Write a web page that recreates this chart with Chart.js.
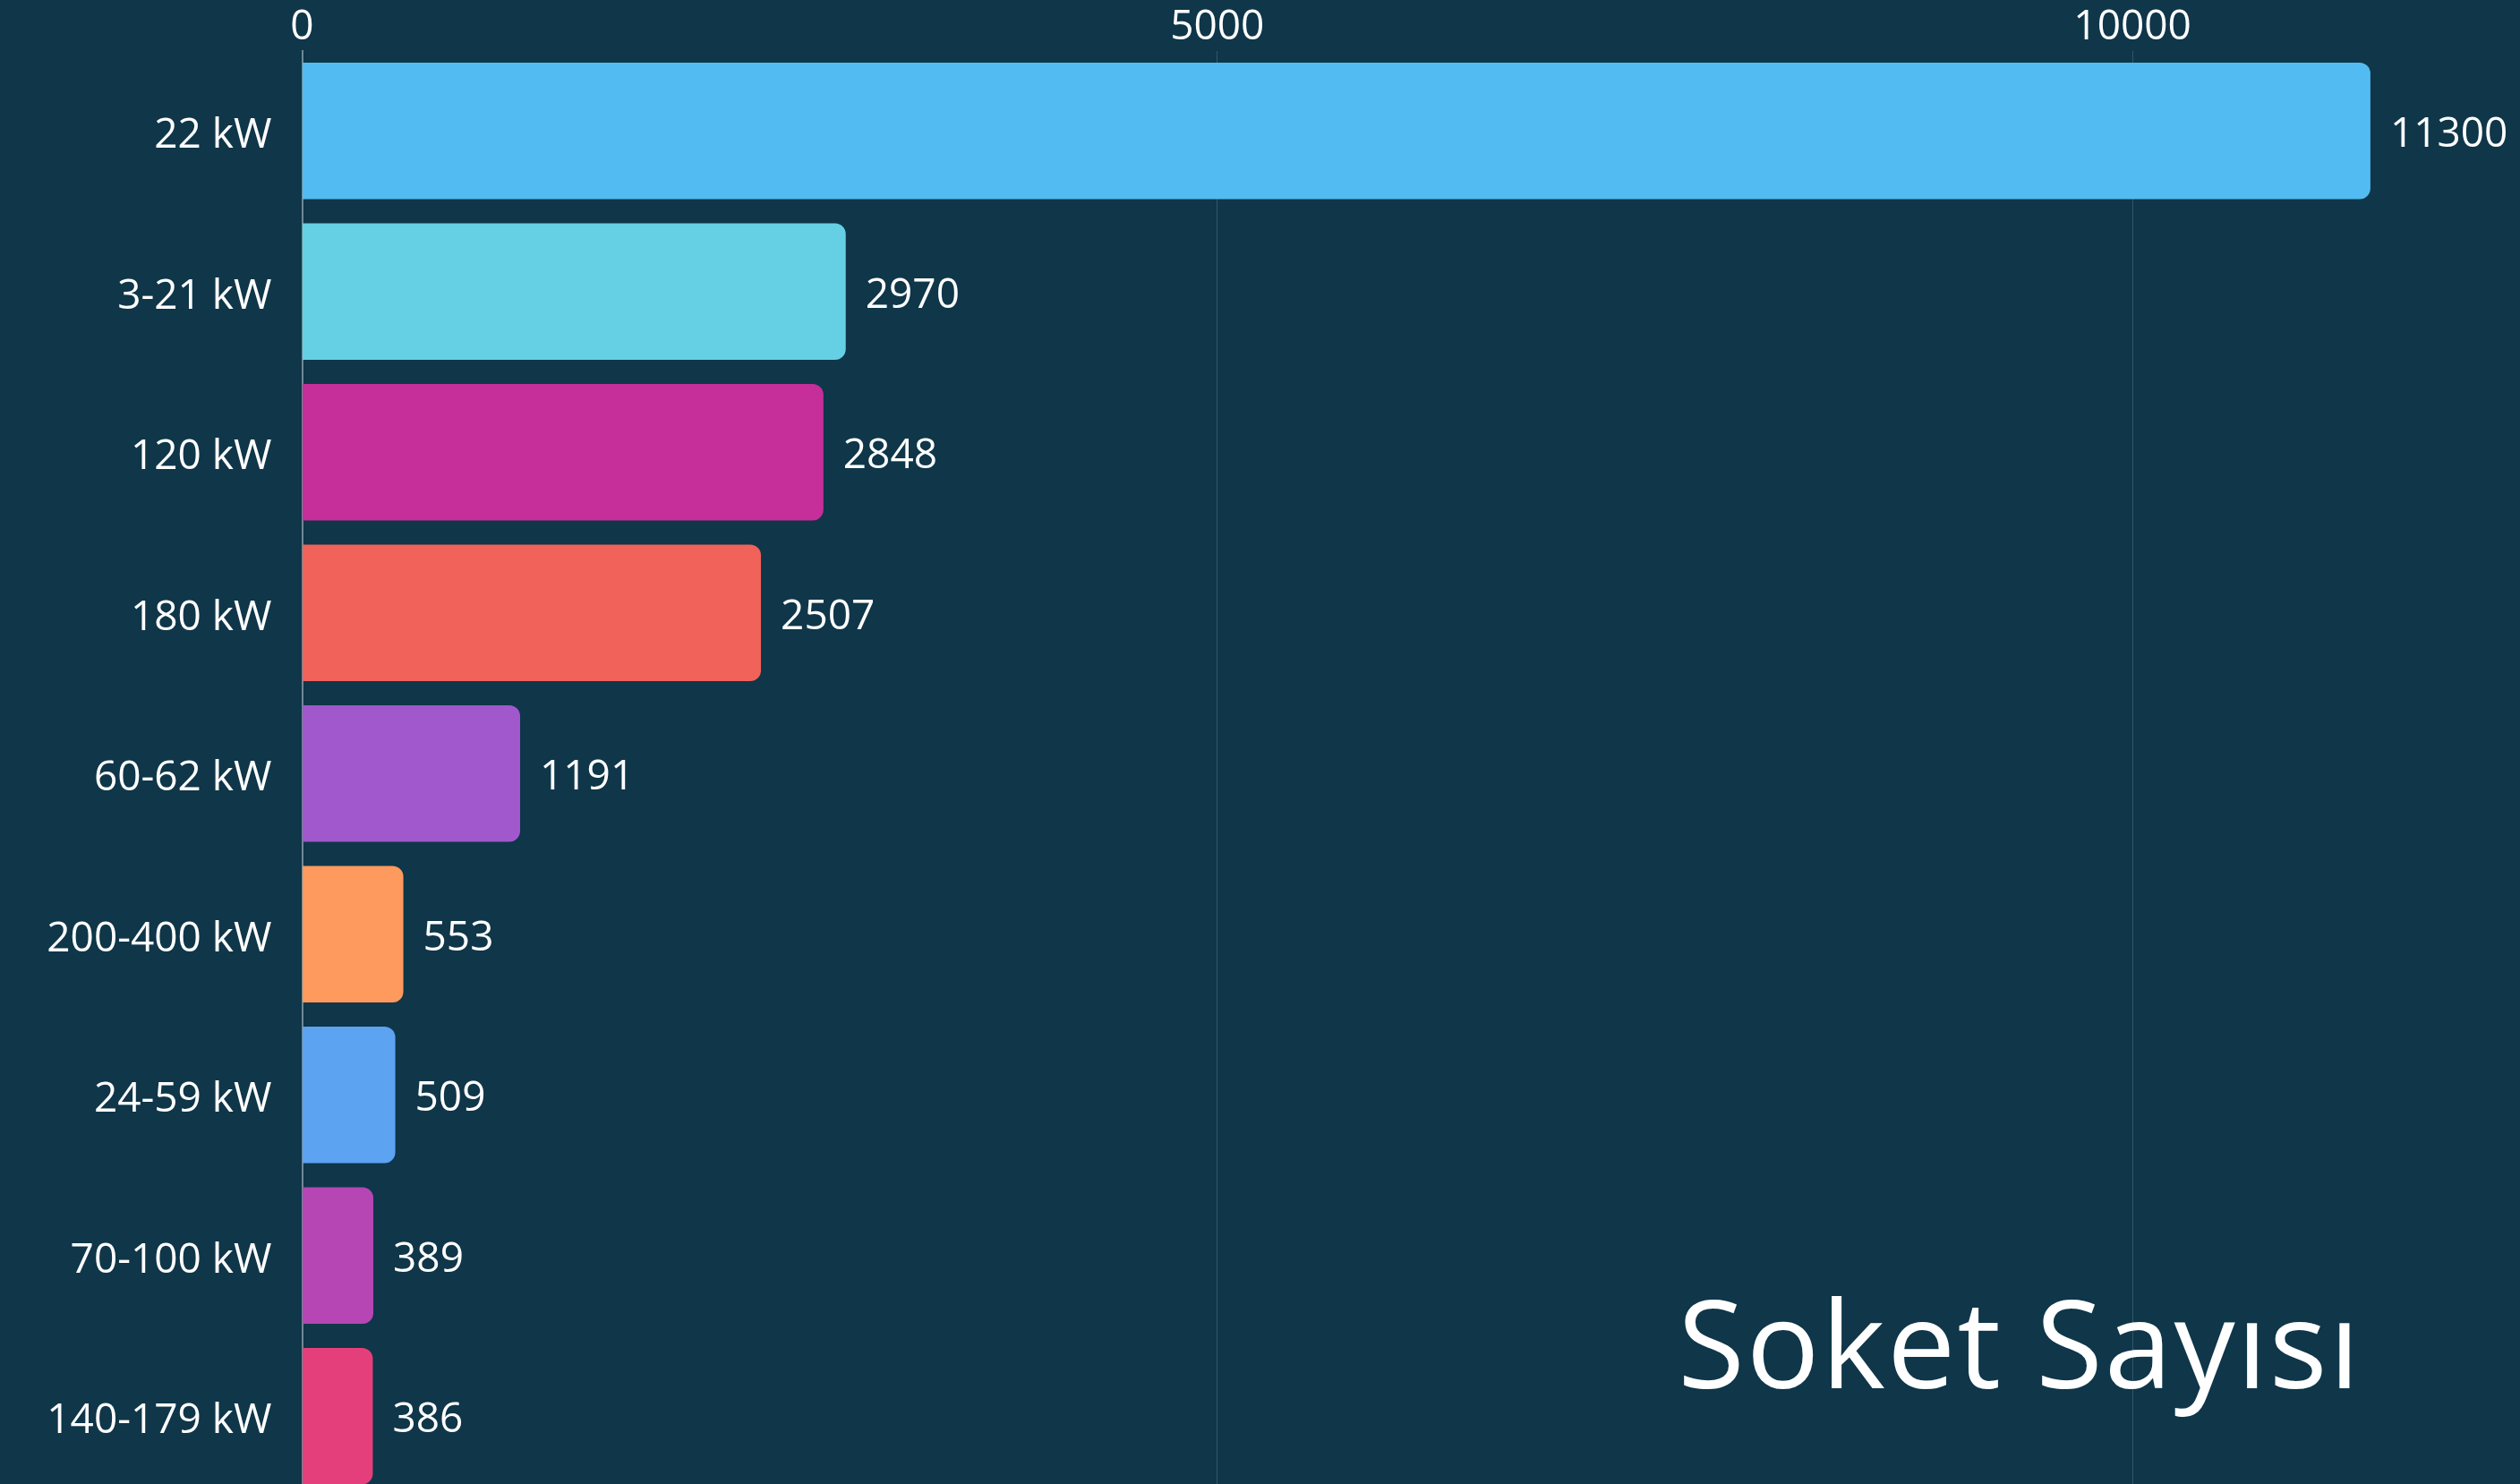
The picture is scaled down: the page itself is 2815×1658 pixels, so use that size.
<!DOCTYPE html>
<html>
<head>
<meta charset="utf-8">
<script src="https://cdn.jsdelivr.net/npm/chart.js@4.4.1/dist/chart.umd.min.js"></script>
<style>
  html, body { margin: 0; padding: 0; background: #0F3649; overflow: hidden; }
  #wrap { position: relative; width: 2815px; height: 1672px; }
  #baslik {
    position: absolute; right: 177px; top: 1406px;
    font-family: "Open Sans", sans-serif; font-size: 136px; color: #ffffff;
    letter-spacing: 2px; white-space: nowrap;
  }
</style>
</head>
<body>
<div id="wrap">
  <canvas id="chart"></canvas>
  <div id="baslik">Soket Sayısı</div>
</div>
<script>
const kategoriler = ["22 kW", "3-21 kW", "120 kW", "180 kW", "60-62 kW", "200-400 kW", "24-59 kW", "70-100 kW", "140-179 kW"];
const soketSayisi = [11300, 2970, 2848, 2507, 1191, 553, 509, 389, 386];
const renkler = ["#52BBF2", "#65D0E4", "#C62E9A", "#F0625A", "#A058CC", "#FE9A5E", "#5CA3F2", "#B546B4", "#E53F7B"];
const eksenDegerleri = [0, 5000, 10000];

const fontAdi = "'Open Sans', sans-serif";

// bar sonuna deger yazan eklenti
const degerYaz = {
  id: "degerYaz",
  afterDatasetsDraw(chart) {
    const ctx = chart.ctx;
    const meta = chart.getDatasetMeta(0);
    ctx.save();
    ctx.fillStyle = "#ffffff";
    ctx.font = "46px " + fontAdi;
    ctx.textAlign = "left";
    ctx.textBaseline = "middle";
    meta.data.forEach(function(bar, i){
      ctx.fillText(String(soketSayisi[i]), bar.x + 22, bar.y + 5);
    });
    ctx.restore();
  }
};

let canv = document.getElementById("chart");
let latestChart = new Chart(canv, {
  type: "bar",
  data: {
    labels: kategoriler,
    datasets: [{
      label: "Soket Sayısı",
      data: soketSayisi,
      backgroundColor: renkler,
      borderRadius: 12,
      borderSkipped: "start",
      barPercentage: 0.85,
      categoryPercentage: 1,
    }],
  },
  options: {
    indexAxis: "y",
    responsive: true,
    maintainAspectRatio: false,
    animation: false,
    layout: { padding: { left: 0, right: 24, top: 0, bottom: 0 } },
    plugins: {
      legend: { display: false },
      tooltip: { enabled: false },
    },
    scales: {
      x: {
        position: "top",
        min: 0,
        max: 12000,
        afterBuildTicks: function(scale){
          scale.ticks = eksenDegerleri.map(function(v){ return { value: v }; });
        },
        afterFit: function(scale){ scale.height = 56.5; },
        grid: {
          color: "rgba(120,150,165,0.35)",
          lineWidth: 1,
          drawTicks: false,
        },
        border: { display: false },
        ticks: {
          color: "#ffffff",
          padding: -2,
          font: { family: fontAdi, size: 46 },
          callback: function(v){ return String(v); },
        },
      },
      y: {
        afterFit: function(scale){
          scale.width = 337.5;
          scale.paddingTop = 0;
          scale.paddingBottom = 0;
        },
        grid: { display: false, drawTicks: false },
        border: { display: true, color: "#6E8896", width: 2 },
        ticks: {
          color: "#ffffff",
          padding: 34,
          labelOffset: 6,
          font: { family: fontAdi, size: 46 },
        },
      },
    },
  },
  plugins: [degerYaz],
});
</script>
</body>
</html>
